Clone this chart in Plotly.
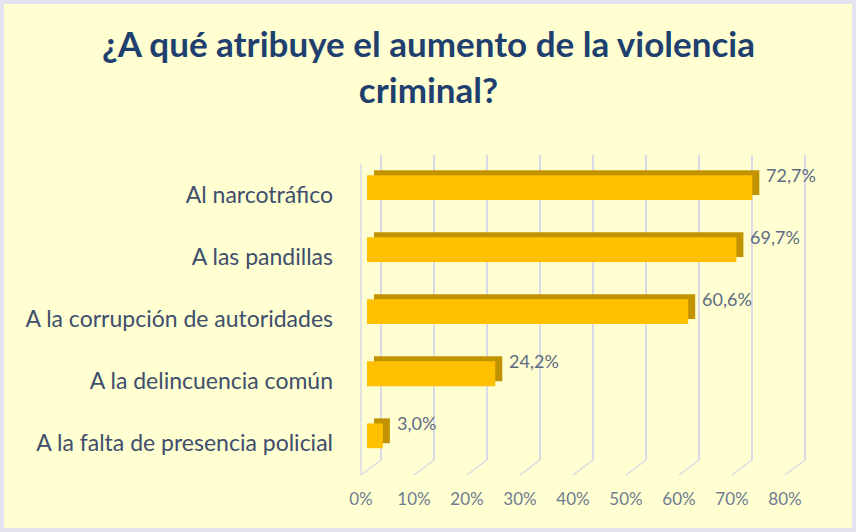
import plotly.graph_objects as go

# ---- data ----
categories = [
    "Al narcotráfico",
    "A las pandillas",
    "A la corrupción de autoridades",
    "A la delincuencia común",
    "A la falta de presencia policial",
]
values = [0.727, 0.697, 0.606, 0.242, 0.030]
value_labels = ["72,7%", "69,7%", "60,6%", "24,2%", "3,0%"]
tick_vals = [0, 0.1, 0.2, 0.3, 0.4, 0.5, 0.6, 0.7, 0.8]
tick_text = ["0%", "10%", "20%", "30%", "40%", "50%", "60%", "70%", "80%"]
title_text = "<b>¿A qué atribuye el aumento de la violencia<br>criminal?</b>"

# ---- style ----
W, H = 856, 532
ML, MR, MT, MB = 355, 39, 155, 72
plot_w = W - ML - MR
plot_h = H - MT - MB
px_per_unit = 530.0
XMIN = -12 / px_per_unit
XMAX = XMIN + plot_w / px_per_unit
bg = "#FFFFD2"
grid_col = "#D8DAE6"
front_col = "#FFC000"
depth_col = "#C29300"
font_fam = "Lato, Open Sans, sans-serif"

depth_dx = 7 / px_per_unit      # 3D depth, x units
depth_dy = 5 / 62               # 3D depth, category units
back_dx = 14 / px_per_unit      # back wall offset (from bar front origin)
floor_dx = -6 / px_per_unit     # floor front edge offset

bar_w = 0.40
bar_off = -0.32

fig = go.Figure()

# back-wall grid axis and floor-front label axis (perspective offsets)
fig.add_trace(go.Scatter(x=[None], y=[None], xaxis="x2", yaxis="y", showlegend=False))
fig.add_trace(go.Scatter(x=[None], y=[None], xaxis="x3", yaxis="y", showlegend=False))

# depth (top/right face) of the 3D bars
fig.add_trace(go.Bar(
    y=categories, x=values, base=[depth_dx] * len(values), orientation="h",
    width=bar_w, offset=bar_off - depth_dy,
    marker=dict(color=depth_col, line=dict(width=0)),
    hoverinfo="skip", showlegend=False,
))
# front face of the bars
fig.add_trace(go.Bar(
    y=categories, x=values, orientation="h",
    width=bar_w, offset=bar_off,
    marker=dict(color=front_col, line=dict(width=0)),
    showlegend=False,
))

# value labels
for c, v, t in zip(categories, values, value_labels):
    fig.add_annotation(x=v, y=c, text=t, showarrow=False, xanchor="left",
                       xshift=12, yshift=20,
                       font=dict(family=font_fam, size=18, color="#5D6B82"))

# title
fig.add_annotation(text=title_text, xref="paper", yref="paper",
                   x=(W / 2 - ML) / plot_w, y=(H - MB - 66) / plot_h,
                   xanchor="center", yanchor="middle", showarrow=False,
                   font=dict(family=font_fam, size=35, color="#1F3F6E"))

# floor diagonals and left wall edge
shapes = []
y_floor_front = -15 / plot_h
for t in tick_vals:
    shapes.append(dict(type="line", xref="x", yref="paper",
                       x0=t + floor_dx, y0=y_floor_front,
                       x1=t + back_dx, y1=0,
                       line=dict(color=grid_col, width=1.5)))
shapes.append(dict(type="line", xref="x", yref="paper",
                   x0=floor_dx, y0=y_floor_front, x1=floor_dx, y1=0.97,
                   line=dict(color=grid_col, width=1.5)))
# outer frame
shapes.append(dict(type="rect", xref="paper", yref="paper",
                   x0=-(ML - 2) / plot_w, x1=1 + (MR - 2) / plot_w,
                   y0=-(MB - 2) / plot_h, y1=1 + (MT - 2) / plot_h,
                   line=dict(color="#E3E3F0", width=4), layer="below"))

fig.update_layout(
    width=W, height=H,
    margin=dict(l=ML, r=MR, t=MT, b=MB),
    paper_bgcolor=bg, plot_bgcolor=bg,
    barmode="overlay",
    xaxis=dict(range=[XMIN, XMAX], showticklabels=False,
               showgrid=False, zeroline=False, showline=False, ticks=""),
    xaxis2=dict(range=[XMIN - back_dx, XMAX - back_dx], overlaying="x",
                tickvals=tick_vals, showticklabels=False,
                showgrid=True, gridcolor=grid_col, gridwidth=1.5,
                zeroline=False, showline=False),
    xaxis3=dict(range=[XMIN - floor_dx, XMAX - floor_dx], overlaying="x", side="bottom",
                tickvals=tick_vals, ticktext=tick_text,
                showgrid=False, zeroline=False, showline=False,
                ticks="", ticklabelstandoff=27,
                tickfont=dict(family=font_fam, size=17, color="#6E7B90")),
    yaxis=dict(type="category", categoryorder="array", categoryarray=categories,
               range=[4.27, -0.645], showgrid=False, zeroline=False,
               showline=False, ticks="", ticklabelstandoff=21,
               tickfont=dict(family=font_fam, size=23, color="#3E4E6C")),
    shapes=shapes,
)

fig.write_html("out.html")
